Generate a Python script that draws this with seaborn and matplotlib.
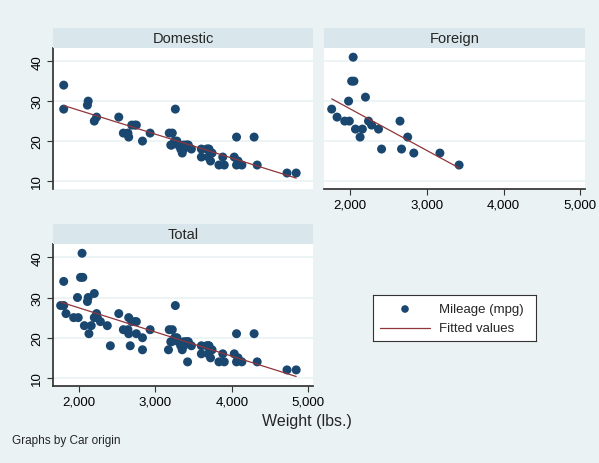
import matplotlib
matplotlib.use("Agg")
import matplotlib.pyplot as plt
import seaborn as sns
import pandas as pd

# datos (auto): peso y rendimiento
dom_weight = [2930, 3350, 2640, 3250, 4080, 3670, 2230, 3280, 3880, 3400, 4330, 3900, 4290,
              2110, 3690, 3180, 3220, 2750, 3430, 2120, 3600, 3600, 3740, 1800, 2650, 4840,
              4720, 3830, 2580, 4060, 3720, 3370, 4130, 2830, 4060, 3310, 3300, 3690, 3370,
              2730, 4030, 3260, 1800, 2200, 2520, 3330, 3700, 3470, 3210, 3200, 3420, 2690]
dom_mpg = [22, 17, 22, 20, 15, 18, 26, 20, 16, 19, 14, 14, 21,
           29, 16, 22, 22, 24, 19, 30, 18, 16, 17, 28, 21, 12,
           12, 14, 22, 14, 15, 18, 14, 20, 21, 19, 19, 18, 19,
           24, 16, 28, 34, 25, 26, 18, 18, 18, 19, 19, 19, 24]
for_weight = [2830, 2070, 2650, 2370, 2020, 2280, 2750, 2130, 2240, 1760, 1980,
              3420, 1830, 2050, 2410, 2200, 2670, 2160, 2040, 1930, 1990, 3170]
for_mpg = [17, 23, 25, 23, 35, 24, 21, 21, 25, 28, 30,
           14, 26, 35, 18, 31, 18, 23, 41, 25, 25, 17]

paneles = ["Domestic", "Foreign", "Total"]
x_ticks = [2000, 3000, 4000, 5000]
x_labels = ["2,000", "3,000", "4,000", "5,000"]
y_ticks = [10, 20, 30, 40]

df = pd.DataFrame({
    "weight": dom_weight + for_weight,
    "mpg": dom_mpg + for_mpg,
    "origin": ["Domestic"] * len(dom_weight) + ["Foreign"] * len(for_weight),
})

sns.set_theme(style="white")
plt.rcParams["font.family"] = ["Liberation Sans", "DejaVu Sans"]

fondo = "#EAF2F3"
banda = "#D9E6EB"
azul = "#1A476F"
rojo = "#90353B"

fig = plt.figure(figsize=(5.99, 4.64), dpi=100, facecolor=fondo)
W, H = 599, 464

def px(x0, y0, x1, y1):
    return [x0 / W, 1 - y1 / H, (x1 - x0) / W, (y1 - y0) / H]

cajas = {
    "Domestic": (53, 49, 313, 190),
    "Foreign": (324, 49, 585, 190),
    "Total": (53, 245, 313, 387),
}

for nombre in paneles:
    x0, y0, x1, y1 = cajas[nombre]
    ax = fig.add_axes(px(x0, y0, x1, y1))
    datos = df if nombre == "Total" else df[df["origin"] == nombre]
    ax.set_facecolor("white")
    for yt in y_ticks:
        ax.axhline(yt, color=fondo, lw=1.2, zorder=0)
    sns.scatterplot(data=datos, x="weight", y="mpg", ax=ax, color=azul, s=42,
                    edgecolor="none", zorder=3)
    sns.regplot(data=datos, x="weight", y="mpg", ax=ax, scatter=False, ci=None,
                truncate=True, line_kws={"color": rojo, "lw": 0.9, "zorder": 4})
    ax.set_xlim(1660, 5060)
    ax.set_ylim(8, 43.3)
    ax.set_xlabel("")
    ax.set_ylabel("")
    for lado in ["top", "right", "left", "bottom"]:
        ax.spines[lado].set_visible(False)
    ax.tick_params(colors="#333333", labelcolor="black", labelsize=9.5, length=4, width=0.8)

    if nombre in ("Foreign", "Total"):
        ax.spines["bottom"].set_visible(True)
        ax.spines["bottom"].set_color("#333333")
        ax.set_xticks(x_ticks)
        ax.set_xticklabels(x_labels)
        ax.tick_params(axis="x", bottom=True, pad=3)
    else:
        ax.set_xticks([])
    if nombre in ("Domestic", "Total"):
        ax.spines["left"].set_visible(True)
        ax.spines["left"].set_color("#333333")
        ax.set_yticks(y_ticks)
        ax.set_yticklabels([str(v) for v in y_ticks], rotation=90, va="center")
        ax.tick_params(axis="y", left=True, pad=3)
    else:
        ax.set_yticks([])

    # banda del titulo
    tb = fig.add_axes(px(x0, y0 - 20, x1, y0))
    tb.set_facecolor(banda)
    tb.set_xticks([])
    tb.set_yticks([])
    for lado in tb.spines.values():
        lado.set_visible(False)
    tb.text(0.5, 0.5, nombre, ha="center", va="center", fontsize=10.5)

# leyenda
lax = fig.add_axes(px(373, 296, 536, 342))
lax.set_facecolor("white")
lax.set_xlim(0, 163)
lax.set_ylim(46, 0)
lax.set_xticks([])
lax.set_yticks([])
for lado in lax.spines.values():
    lado.set_color("#333333")
    lado.set_linewidth(0.8)
lax.scatter([32], [14], s=30, color=azul, edgecolor="none")
lax.plot([7, 57], [33, 33], color=rojo, lw=0.9)
lax.text(66, 14, "Mileage (mpg)", va="center", fontsize=9.5)
lax.text(66, 33, "Fitted values", va="center", fontsize=9.5)

fig.text(307 / W, 1 - 422 / H, "Weight (lbs.)", ha="center", va="center", fontsize=11.5)
fig.text(12 / W, 1 - 441 / H, "Graphs by Car origin", ha="left", va="center", fontsize=8.5)

fig.savefig("out.png", dpi=100, facecolor=fondo)
